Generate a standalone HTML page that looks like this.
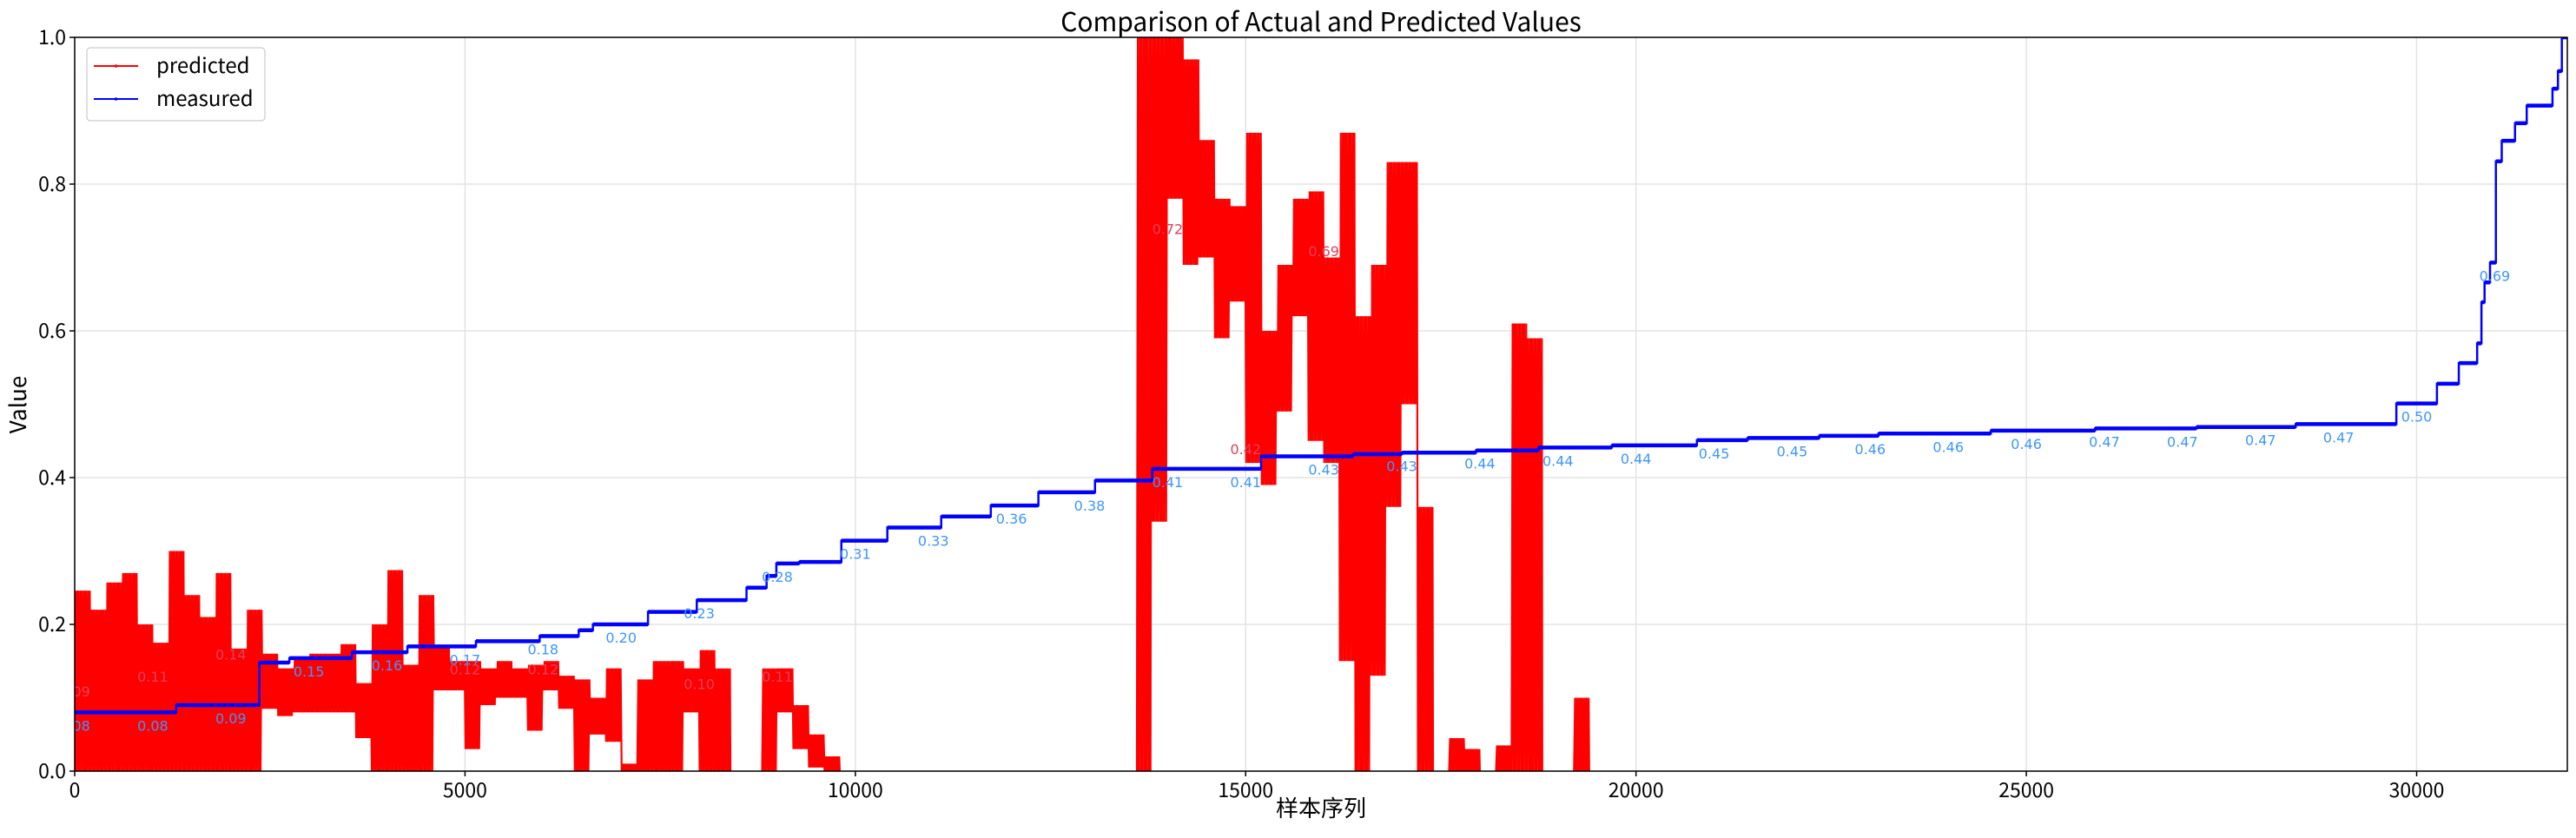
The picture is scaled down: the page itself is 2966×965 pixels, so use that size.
<!DOCTYPE html>
<html><head><meta charset="utf-8">
<style>
html,body{margin:0;padding:0;background:#fff;}
svg{display:block;font-family:"Liberation Sans","Noto Sans CJK SC",sans-serif;}
</style></head>
<body>
<svg id="chart" width="2966" height="965" viewBox="0 0 2966 965" xmlns="http://www.w3.org/2000/svg">
  <defs><clipPath id="plotclip"><rect x="86" y="43" width="2870" height="845"/></clipPath></defs>
  <rect x="0" y="0" width="2966" height="965" fill="#fff"/>
  <g id="grid"></g>
  <g id="pred" clip-path="url(#plotclip)"></g>
  <g id="meas" clip-path="url(#plotclip)"></g>
  <g id="labels" clip-path="url(#plotclip)"></g>
  <rect x="86" y="43" width="2870" height="845" fill="none" stroke="#000" stroke-width="1.5"/>
  <g id="ticks"></g>
  <text x="1521" y="36" text-anchor="middle" font-size="30" font-family="'Noto Sans CJK SC',sans-serif" fill="#000">Comparison of Actual and Predicted Values</text>
  <text x="1521" y="940" text-anchor="middle" font-size="26" font-family="'Liberation Sans','Noto Sans CJK SC',sans-serif" fill="#000">样本序列</text>
  <text transform="translate(30,466) rotate(-90)" text-anchor="middle" font-size="26" font-family="'Noto Sans CJK SC',sans-serif" fill="#000">Value</text>
  <g>
    <rect x="100" y="55" width="205" height="84" rx="4" fill="#fff" fill-opacity="0.85" stroke="#ccc" stroke-width="1.2"/>
    <g>
      <line x1="108" y1="76" x2="159" y2="76" stroke="#ff0000" stroke-width="2"/>
      <circle cx="133.5" cy="76" r="1.8" fill="#ff0000"/>
      <text x="180" y="84" font-size="24" font-family="'Noto Sans CJK SC',sans-serif" fill="#000">predicted</text>
    </g>
    <g>
      <line x1="108" y1="114" x2="159" y2="114" stroke="#0000ff" stroke-width="2"/>
      <circle cx="133.5" cy="114" r="1.8" fill="#0000ff"/>
      <text x="180" y="122" font-size="24" font-family="'Noto Sans CJK SC',sans-serif" fill="#000">measured</text>
    </g>
  </g>
</svg>
<script>
// ---- data ----
const xTicks = [0, 5000, 10000, 15000, 20000, 25000, 30000];
const yTicks = [0.0, 0.2, 0.4, 0.6, 0.8, 1.0];
const xMax = 31930;
const measX = [0,1300,2365,2750,3550,4262,5140,5956,6456,6638,7344,7969,8606,8863,8988,9281,9821,10410,11100,11735,12345,13070,13803,15197,16376,17000,17950,18750,19690,20780,21430,22347,23106,24545,25880,27180,28450,29740,30260,30540,30775,30830,30870,30940,31015,31090,31260,31410,31740,31810,31860];
const measV = [0.080,0.090,0.148,0.154,0.162,0.170,0.177,0.184,0.192,0.200,0.217,0.233,0.250,0.266,0.283,0.285,0.314,0.332,0.347,0.362,0.380,0.396,0.412,0.429,0.432,0.434,0.437,0.441,0.444,0.451,0.454,0.457,0.460,0.464,0.467,0.469,0.473,0.501,0.528,0.556,0.583,0.639,0.666,0.693,0.831,0.859,0.883,0.907,0.930,0.954,1.0];
const predX = [0,200,400,600,800,1000,1200,1400,1600,1800,2000,2200,2400,2600,2800,3000,3200,3400,3600,3800,4000,4200,4400,4600,4800,5000,5200,5400,5600,5800,6000,6200,6400,6600,6800,7000,7200,7400,7600,7800,8000,8200,8800,9000,9200,9400,9600,13600,13800,14000,14200,14400,14600,14800,15000,15200,15400,15600,15800,16000,16200,16400,16600,16800,17000,17200,17600,17800,18200,18400,18600,19200];
const predLo = [0,0,0,0,0,0,0,0,0,0,0,0,0.085,0.075,0.08,0.08,0.08,0.08,0.045,0,0,0,0,0.11,0.11,0.03,0.09,0.10,0.10,0.055,0.11,0.085,0,0.05,0.04,0,0,0,0,0.08,0,0,0,0.08,0.03,0.005,0,0,0.34,0.78,0.69,0.70,0.59,0.64,0.42,0.39,0.49,0.62,0.45,0.42,0.15,0,0.13,0.36,0.50,0,0,0,0,0,0,0];
const predHi = [0.246,0.22,0.257,0.27,0.20,0.175,0.30,0.24,0.21,0.27,0.167,0.22,0.16,0.14,0.155,0.16,0.16,0.173,0.12,0.20,0.274,0.145,0.24,0.17,0.15,0.15,0.14,0.15,0.14,0.145,0.15,0.13,0.125,0.10,0.14,0.01,0.125,0.15,0.15,0.14,0.165,0.14,0.14,0.14,0.09,0.05,0.02,1.0,1.0,1.0,0.97,0.86,0.78,0.77,0.87,0.60,0.69,0.78,0.79,0.70,0.87,0.62,0.69,0.83,0.83,0.36,0.045,0.03,0.035,0.61,0.59,0.10];
const predBin = 200;
const predLabelX = [0,1000,2000,5000,6000,8000,9000,14000,15000,16000];
const predLabelV = [0.09,0.11,0.14,0.12,0.12,0.10,0.11,0.72,0.42,0.69];
const measLabelStep = 1000;

// ---- scales ----
const L=86,R=2956,T=43,B=888;
function X(d){return L + d*(R-L)/xMax;}
function Y(v){return B - v*(B-T);}
const NS="http://www.w3.org/2000/svg";
function mk(tag, attrs, parent){const e=document.createElementNS(NS,tag);for(const k in attrs)e.setAttribute(k,attrs[k]);parent.appendChild(e);return e;}

const grid=document.getElementById('grid'), ticks=document.getElementById('ticks');
xTicks.forEach(t=>{
  const g=mk('line',{x1:X(t),x2:X(t),y1:T,y2:B,stroke:'#e3e3e3','stroke-width':1.5},grid);
  
  
  const tk=mk('line',{x1:X(t),x2:X(t),y1:B,y2:B+6,stroke:'#000','stroke-width':1.5},ticks);
  
  
  const tx=mk('text',{x:X(t),y:B+30,'text-anchor':'middle','font-size':23,'font-family':"'Noto Sans CJK SC',sans-serif",fill:'#000'},ticks);
  tx.textContent=String(t);
  
  
});
yTicks.forEach(t=>{
  const g=mk('line',{x1:L,x2:R,y1:Y(t),y2:Y(t),stroke:'#e3e3e3','stroke-width':1.5},grid);
  
  
  const tk=mk('line',{x1:L-6,x2:L,y1:Y(t),y2:Y(t),stroke:'#000','stroke-width':1.5},ticks);
  
  
  const tx=mk('text',{x:L-10,y:Y(t)+8,'text-anchor':'end','font-size':23,'font-family':"'Noto Sans CJK SC',sans-serif",fill:'#000'},ticks);
  tx.textContent=t.toFixed(1);
  
  
});

// predicted: dense zigzag between bin low/high
const pg=document.getElementById('pred');
let pts=[];
const sub=16;
predX.forEach((x0,i)=>{
  const lo=predLo[i], hi=predHi[i];
  for(let k=0;k<sub;k++){
    const frac=(k+0.5)/sub;
    pts.push([X(x0+predBin*frac).toFixed(1),Y(k%2===0?lo:hi).toFixed(1)]);
  }
  const next = predX[i+1];
  if(next===undefined || next>x0+predBin){
    pts.push([X(x0+predBin).toFixed(1),Y(0).toFixed(1)]);
    const pl=mk('polyline',{points:pts.map(p=>p.join(',')).join(' '),fill:'none',stroke:'#ff0000','stroke-width':2.2,'stroke-linejoin':'bevel'},pg);
    
    
    pts=[];
  }
});

// measured step line
const mg=document.getElementById('meas');
let d='';
measX.forEach((x0,i)=>{
  const x1 = i+1<measX.length ? measX[i+1] : xMax;
  d += (i===0?'M':'L')+X(x0)+','+Y(measV[i])+' L'+X(x1)+','+Y(measV[i])+' ';
});
const mp=mk('path',{d:d,fill:'none',stroke:'#0000ff','stroke-width':2.5},mg);


measX.forEach((x0,i)=>{
  const x1 = i+1<measX.length ? measX[i+1] : xMax;
  const s=mk('line',{x1:X(x0),x2:X(x1),y1:Y(measV[i]),y2:Y(measV[i]),stroke:'#0000ff','stroke-width':4.5},mg);
  
  
});

// labels
function measAt(x){let v=measV[0];for(let i=0;i<measX.length;i++){if(measX[i]<=x)v=measV[i];}return v;}
const lg=document.getElementById('labels');
for(let x=0;x<=31000;x+=measLabelStep){
  const v=measAt(x);
  const t=mk('text',{x:X(x),y:Y(v)+21,'text-anchor':'middle','font-size':16,'font-family':"'DejaVu Sans',sans-serif",fill:'#3d96ff'},lg);
  t.textContent=v.toFixed(2);
  
  
}
predLabelX.forEach((x,i)=>{
  const v=predLabelV[i];
  const t=mk('text',{x:X(x),y:Y(v)-10,'text-anchor':'middle','font-size':16,'font-family':"'DejaVu Sans',sans-serif",fill:'#e0405a'},lg);
  t.textContent=v.toFixed(2);
  
  
});
</script>
</body></html>
